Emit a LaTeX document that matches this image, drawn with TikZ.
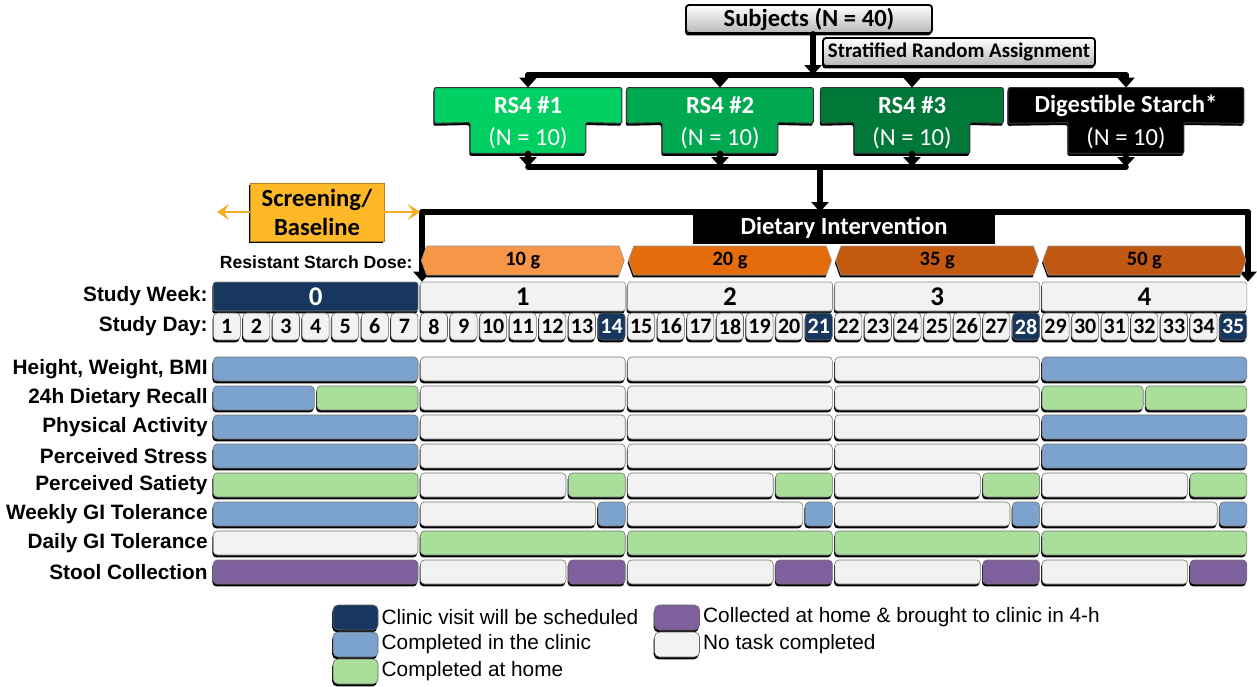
\documentclass[tikz,border=0pt]{standalone}
\usepackage{fontspec}
\setmainfont{Carlito}
\newfontfamily\arialfont{Liberation Sans}
\usetikzlibrary{arrows.meta, shapes.arrows, shadows, backgrounds}

% ---- Colours ----
\definecolor{rsone}{RGB}{0,208,98}
\definecolor{rstwo}{RGB}{0,168,80}
\definecolor{rsthree}{RGB}{0,120,56}
\definecolor{screenorange}{RGB}{254,184,40}
\definecolor{doseA}{RGB}{247,150,70}
\definecolor{doseB}{RGB}{228,108,10}
\definecolor{doseC}{RGB}{196,90,15}
\definecolor{doseD}{RGB}{192,88,20}
\definecolor{navy}{RGB}{23,55,94}
\definecolor{clinicblue}{RGB}{124,162,206}
\definecolor{homegreen}{RGB}{169,223,155}
\definecolor{stoolpurple}{RGB}{126,97,156}
\definecolor{notask}{RGB}{242,242,242}

% ---- Fonts ----
\newcommand{\fTitle}{\fontsize{12.3}{14.5}\selectfont\bfseries}
\newcommand{\fNote}{\fontsize{12.3}{14.5}\selectfont}
\newcommand{\fStrat}{\fontsize{10.4}{12}\selectfont\bfseries}
\newcommand{\fWeek}{\fontsize{13.5}{15}\selectfont\bfseries}
\newcommand{\fDay}{\fontsize{11}{12}\selectfont\bfseries}
\newcommand{\fDose}{\fontsize{10.2}{12}\selectfont\bfseries}
\newcommand{\fRow}{\arialfont\fontsize{10.4}{12}\selectfont\bfseries}
\newcommand{\fDoseLabel}{\arialfont\fontsize{8.8}{10}\selectfont\bfseries}
\newcommand{\fLegend}{\arialfont\fontsize{10.4}{12}\selectfont}

\tikzset{
  blackshadow/.style={drop shadow={shadow xshift=-0.4pt, shadow yshift=-1.2pt, fill=black, opacity=1}},
  graybox/.style={draw=black, line width=0.9pt, rounded corners=1.5pt, top color=white, bottom color=black!28, inner sep=0pt, blackshadow},
  grouptop/.style={minimum height=17.5pt, inner sep=0pt, text=white, font=\fTitle},
  groupnum/.style={minimum width=57.5pt, minimum height=15pt, inner sep=0pt, text=white, font=\fNote},
  groupbox/.style={draw=black!80, line width=0.5pt, rounded corners=1pt, blackshadow},
  flowline/.style={line width=2.8pt, line cap=round, line join=round},
  flowarrow/.style={flowline, -{Triangle[length=5pt, width=8.5pt]}},
  scrarrow/.style={draw=screenorange!95!black, line width=1.2pt, -{Stealth[length=6pt, width=8pt, inset=2.5pt]}},
  screenbox/.style={fill=screenorange, draw=screenorange!70!black, line width=0.4pt, minimum width=67pt, minimum height=29pt, inner sep=0pt, align=center, font=\fTitle, blackshadow},
  dietbox/.style={fill=black, text=white, minimum width=151pt, minimum height=15.5pt, inner sep=0pt, font=\fTitle},
  dosebar/.style={double arrow, double arrow head extend=0pt, double arrow tip angle=140, minimum height=101.5pt, minimum width=14.5pt, inner sep=0pt, draw=black!40, line width=0.3pt, font=\fDose, blackshadow},
  weekcell/.style={minimum width=102.5pt, minimum height=14.5pt, inner sep=0pt, rounded corners=1.2pt, fill=notask, draw=black!45, line width=0.3pt, font=\fWeek, blackshadow},
  visitweek/.style={weekcell, fill=navy, text=white},
  daycell/.style={minimum width=13.5pt, minimum height=13.5pt, inner sep=0pt, rounded corners=2pt, fill=notask, draw=black!60, line width=0.3pt, font=\fDay, blackshadow},
  visitday/.style={daycell, fill=navy, text=white},
  rowlabel/.style={anchor=east, inner sep=0pt, font=\fRow},
  taskbar/.style={draw=black!55, line width=0.3pt, rounded corners=2pt, blackshadow},
  legendbox/.style={minimum width=22.5pt, minimum height=12.5pt, inner sep=0pt, rounded corners=2.5pt, draw=black!60, line width=0.3pt, blackshadow},
  legendtext/.style={anchor=west, inner sep=0pt, font=\fLegend}
}

\begin{document}
\begin{tikzpicture}[x=0.5pt, y=-0.5pt]
	\useasboundingbox (0,0) rectangle (1257,686);
	
	% ---- Enrollment ----
	\node[graybox, minimum width=123pt, minimum height=14pt, font=\fTitle] (subj) at (809,19) {Subjects (N = 40)};
	\node[graybox, minimum width=136pt, minimum height=14pt, font=\fStrat] (strat) at (959,52) {Stratified Random Assignment};
	
	% ---- Groups ----
	\foreach \g/\cx/\tw/\col/\title in {
		1/528/187/rsone/RS4 \#1,
		2/720/186/rstwo/RS4 \#2,
		3/912/182/rsthree/RS4 \#3,
		4/1126/235/black/Digestible Starch*}
	{
		\node[grouptop, minimum width=\tw*0.5pt] (grp\g) at (\cx,105.5) {\title};
		\node[groupnum] (num\g) at (\cx,138) {(N = 10)};
		\begin{scope}[on background layer]
			\path[groupbox, fill=\col] (grp\g.north west) -- (grp\g.north east) -- (grp\g.south east)
				-- (num\g.north east) -- (num\g.south east) -- (num\g.south west)
				-- (num\g.north west) -- (grp\g.south west) -- cycle;
		\end{scope}
	}
	
	% ---- Split and merge ----
	\coordinate (split) at (813,75);
	\coordinate (merge) at (820,167);
	\draw[flowarrow] (subj.south -| split) -- (split);
	\draw[flowline] (grp1.north |- split) -- (grp4.north |- split);
	\draw[flowline] (num1.south |- merge) -- (num4.south |- merge);
	\foreach \g in {1,...,4}
	{
		\draw[flowarrow] (grp\g.north |- split) -- (grp\g.north);
		\draw[flowarrow] (num\g.south) -- (num\g.south |- merge);
	}
	
	% ---- Study week row ----
	\foreach \w in {0,...,4}
	{
		\ifnum\w=0 \def\wkstyle{visitweek}\else\def\wkstyle{weekcell}\fi
		\node[\wkstyle] (wk\w) at ({212+207.2*(\w+0.5)},296.5) {\w};
	}
	
	% ---- Study day row ----
	\foreach \d in {1,...,35}
	{
		\pgfmathtruncatemacro\visit{(mod(\d,7)==0)&&(\d>7)}
		\ifnum\visit=1 \def\dystyle{visitday}\else\def\dystyle{daycell}\fi
		\node[\dystyle] (day\d) at ({212+29.6*(\d-0.5)},326.5) {\d};
	}
	\node[rowlabel] (weeklabel) at (208,296.5) {Study Week:};
	\node[rowlabel] (daylabel) at (208,326.5) {Study Day:};
	
	% ---- Dietary intervention bracket ----
	\coordinate (brL) at (422,212);
	\coordinate (brR) at (1248,212);
	\draw[flowline] (brL) -- (brR);
	\draw[flowarrow] (brL) -- (brL |- wk1.north);
	\draw[flowarrow] (brR) -- (brR |- wk4.north);
	\draw[flowarrow] (merge) -- (merge |- brL);
	\node[dietbox] (diet) at (844,228) {Dietary Intervention};
	
	% ---- Screening ----
	\node[screenbox] (scr) at (317,212) {Screening/\\Baseline};
	\coordinate (scrL) at (217,212);
	\coordinate (scrR) at (420,212);
	\draw[scrarrow] (scr.west) -- (scrL);
	\draw[scrarrow] (scr.east) -- (scrR);
	
	% ---- Resistant starch dose ----
	\node[anchor=east, inner sep=0pt, font=\fDoseLabel] (doselabel) at (413,262) {Resistant Starch Dose:};
	\foreach \w/\dose/\col in {1/10/doseA, 2/20/doseB, 3/35/doseC, 4/50/doseD}
		\node[dosebar, fill=\col] (dose\w) at ({212+207.2*(\w+0.5)},260.5) {\dose\ g};
	
	% ---- Task labels ----
	\foreach \r/\txt in {
		1/{Height, Weight, BMI},
		2/24h Dietary Recall,
		3/Physical Activity,
		4/Perceived Stress,
		5/Perceived Satiety,
		6/Weekly GI Tolerance,
		7/Daily GI Tolerance,
		8/Stool Collection}
		\node[rowlabel] (task\r) at (208,{369+29*(\r-1)}) {\txt};
	
	% ---- Task bars: week 0 ----
	\foreach \r/\a/\b/\c in {
		1/0/7/clinicblue, 2/0/3.5/clinicblue, 2/3.5/7/homegreen,
		3/0/7/clinicblue, 4/0/7/clinicblue, 5/0/7/homegreen,
		6/0/7/clinicblue, 7/0/7/notask, 8/0/7/stoolpurple}
		\path[taskbar, fill=\c] ({213.2+29.6*\a},{357+29*(\r-1)}) rectangle ({210.8+29.6*\b},{381+29*(\r-1)});
	
	% ---- Task bars: weeks 1-3, rows 1-4 ----
	\foreach \w in {1,2,3}
		\foreach \r in {1,...,4}
			\path[taskbar, fill=notask] ({213.2+29.6*7*\w},{357+29*(\r-1)}) rectangle ({210.8+29.6*(7*\w+7)},{381+29*(\r-1)});
	
	% ---- Task bars: week 4, rows 1-4 ----
	\foreach \r/\a/\b/\c in {
		1/28/35/clinicblue, 2/28/31.5/homegreen, 2/31.5/35/homegreen,
		3/28/35/clinicblue, 4/28/35/clinicblue}
		\path[taskbar, fill=\c] ({213.2+29.6*\a},{357+29*(\r-1)}) rectangle ({210.8+29.6*\b},{381+29*(\r-1)});
	
	% ---- Task bars: weeks 1-4, rows 5-8 ----
	\foreach \w in {1,...,4}
		\foreach \r/\a/\b/\c in {
			5/0/5/notask, 5/5/7/homegreen,
			6/0/6/notask, 6/6/7/clinicblue,
			7/0/7/homegreen,
			8/0/5/notask, 8/5/7/stoolpurple}
			\path[taskbar, fill=\c] ({213.2+29.6*(7*\w+\a)},{357+29*(\r-1)}) rectangle ({210.8+29.6*(7*\w+\b)},{381+29*(\r-1)});
	
	% ---- Legend ----
	\foreach \k/\x/\y/\col/\txt in {
		visit/355.5/617.5/navy/Clinic visit will be scheduled,
		clinic/355.5/644.5/clinicblue/Completed in the clinic,
		home/355.5/671.5/homegreen/Completed at home,
		stool/677/617.5/stoolpurple/Collected at home \& brought to clinic in 4-h,
		none/677/644.5/notask/No task completed}
	{
		\node[legendbox, fill=\col] (key\k) at (\x,\y) {};
		\node[legendtext] (keytext\k) at ([xshift=1.5pt]key\k.east) {\txt};
	}
	
\end{tikzpicture}
\end{document}
